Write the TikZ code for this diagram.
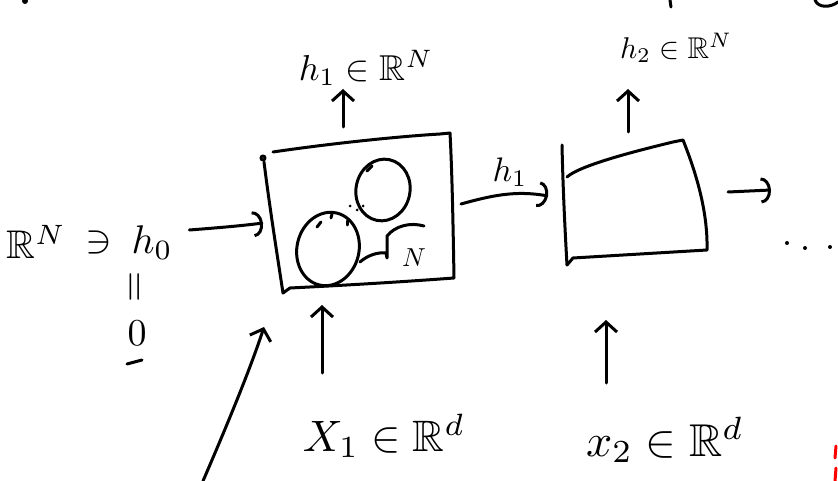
\documentclass[tikz,border=0pt]{standalone}
\usepackage{amssymb}
\usetikzlibrary{arrows.meta}
\begin{document}
\begin{tikzpicture}[x=1pt,y=-1pt,
  ink/.style={line width=3pt,line cap=round,line join=round,black},
  lab/.style={inner sep=0pt,black},
  fs/.style={scale=#1/10,transform shape},
  uptip/.style={-{Straight Barb[length=10pt,width=22pt,line width=3pt]}},
  hooktip/.style={-{Arc Barb[length=10pt,width=26pt,line width=3pt]}}]
\path[fill=white] (0,0) rectangle (838,481);
\useasboundingbox (0,0) rectangle (838,481);

% ---- first cell, with its two units
\draw[ink] (263,158) circle (2);
\draw[ink] (264,162) .. controls (270,210) and (278,260) .. (283,293)
  -- (290,288) .. controls (350,285) and (400,282) .. (454,278)
  .. controls (453,220) and (452,170) .. (450,133)
  -- (440,134) .. controls (390,137) and (320,145) .. (273,152);
\draw[ink,rotate around={-12:(383,190)}] (383,190) ellipse [x radius=27,y radius=31];
\draw[ink,rotate around={-14:(328,249)}] (328,249) ellipse [x radius=31,y radius=37];
\draw[ink] (367,171) -- (372,166);
\draw[ink] (317,227) -- (321,222);
\draw[ink] (331,218) -- (332,214);
\draw[ink] (347,225) -- (347,221);
\fill (350,206) circle (1.5) (357,210) circle (1.5) (363,206) circle (1.5);
\draw[ink] (360,262) .. controls (368,255) and (378,252) .. (386,253)
  -- (387,258) -- (387,236) .. controls (395,226) and (410,222) .. (424,226);
\node[lab,fs=26] (nunits) at (414,258) {$N$};

% ---- second cell
\draw[ink] (562,145) .. controls (563,190) and (565,230) .. (567,265);
\draw[ink] (567,177) .. controls (580,165) and (640,150) .. (673,142) -- (683,140)
  .. controls (695,170) and (708,210) .. (707,250)
  -- (573,258) -- (567,265);

% ---- labels
\node[lab,fs=36] (hone) at (366,68) {$h_1\in\mathbb{R}^N$};
\node[lab,fs=30] (htwo) at (676,48) {$h_2\in\mathbb{R}^N$};
\node[lab,fs=34] (hmid) at (510,172) {$h_1$};
\node[lab,fs=40] (rn) at (36,242) {$\mathbb{R}^N$};
\node[lab,fs=40] (ni) at (99,243) {$\ni$};
\node[lab,fs=40] (hzero) at (152,243) {$h_0$};
\node[lab,fs=40,rotate=90] (eqs) at (137,287) {$=$};
\node[lab,fs=38] (zero) at (137,333) {$0$};
\draw[ink] (127,364) -- (142,360);
\node[lab,fs=44] (xone) at (384,436) {$X_1\in\mathbb{R}^d$};
\node[lab,fs=46] (xtwo) at (665,440) {$x_2\in\mathbb{R}^d$};

% ---- connector ends
\coordinate (b1W) at (263,223);
\coordinate (b1E) at (461,204);
\coordinate (b1N) at (343,127);
\coordinate (b1S) at (322,305);
\coordinate (b1SW) at (264,327);
\coordinate (b2W) at (548,196);
\coordinate (b2N) at (628,132);
\coordinate (b2S) at (606,320);
\coordinate (b2E) at (728,192);
\coordinate (nxt) at (771,190);
\coordinate (xin) at (203,481);
\coordinate (xoneTop) at (322,373);
\coordinate (xtwoTop) at (606,383);
\coordinate (honeBot) at (343,89);
\coordinate (htwoBot) at (628,89);

% ---- connectors
\draw[ink,hooktip] ([shift={(16,-13)}]hzero.east) .. controls (215,228) and (240,226) .. (b1W);
\draw[ink,hooktip] (b1E) .. controls (490,196) and (515,190) .. (b2W);
\draw[ink,hooktip] (b2E) -- (nxt);
\draw[ink,uptip] (b1N) -- (honeBot);
\draw[ink,uptip] (b2N) -- (htwoBot);
\draw[ink,uptip] (xoneTop) -- (b1S);
\draw[ink,uptip] (xtwoTop) -- (b2S);
\draw[ink,uptip] (xin) .. controls (225,430) and (250,370) .. (b1SW);

% ---- trailing dots
\fill (787,243) circle (2) (805,248) circle (2) (830,247) circle (2);

% ---- stray strokes at the edges
\fill (25,1) circle (3);
\draw[ink] (670,0) -- (671,7);
\draw[ink] (815,0) .. controls (818,8) and (830,8) .. (838,2);
\draw[line width=3pt,red,line cap=round] (836,446) -- (835,458) (836,468) -- (835,481);
\end{tikzpicture}
\end{document}
